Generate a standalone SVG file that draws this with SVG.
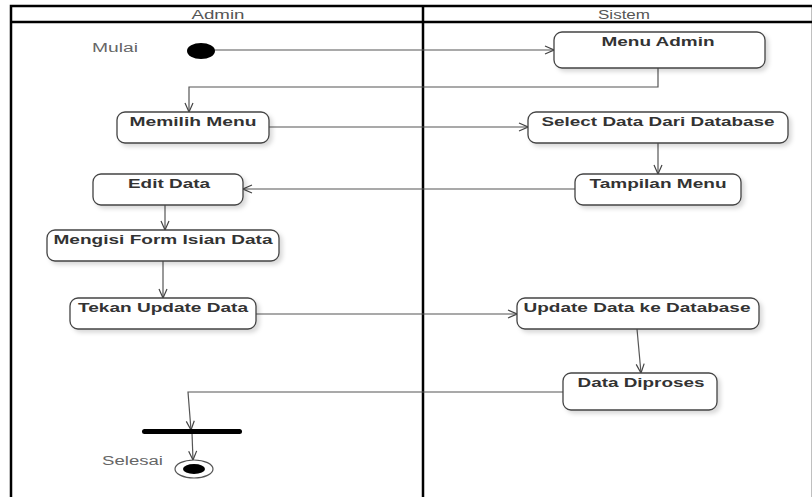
<svg xmlns="http://www.w3.org/2000/svg" width="812" height="497" viewBox="0 0 812 497">
<style>
.frame{fill:none;stroke:#000;stroke-width:2.5}
.box{fill:#fff;stroke:#444;stroke-width:1.3;filter:url(#sh)}
.lbl{font-family:"Liberation Sans",Arial,sans-serif;font-weight:bold;font-size:13px;fill:#333;text-anchor:middle}
.hdr{font-family:"Liberation Sans",Arial,sans-serif;font-size:12.5px;fill:#555;text-anchor:middle}
.side{font-family:"Liberation Sans",Arial,sans-serif;font-size:12.5px;fill:#666}
.con{fill:none;stroke:#555;stroke-width:1.2;marker-end:url(#arr)}
.conp{fill:none;stroke:#555;stroke-width:1.2}
</style>
<defs>
<filter id="sh" x="-10%" y="-20%" width="130%" height="160%">
<feDropShadow dx="3" dy="3" stdDeviation="2" flood-color="#000" flood-opacity="0.15"/>
</filter>
<marker id="arr" viewBox="0 0 10 10" refX="10" refY="5" markerWidth="10" markerHeight="10" markerUnits="userSpaceOnUse" orient="auto">
<path d="M1,1 L10,5 L1,9" fill="none" stroke="#444" stroke-width="1.2"/>
</marker>
</defs>
<rect width="812" height="497" fill="#fff"/>
<g id="lanes">
<rect class="frame" x="11" y="6" width="802" height="495"/>
<line class="frame" x1="11" y1="22" x2="812" y2="22"/>
<line class="frame" x1="423" y1="6" x2="423" y2="497"/>
<text class="hdr" x="218" y="19" textLength="53" lengthAdjust="spacingAndGlyphs">Admin</text>
<text class="hdr" x="624" y="19" textLength="52" lengthAdjust="spacingAndGlyphs">Sistem</text>
</g>
<g id="connectors">
<line class="con" x1="215" y1="50" x2="554" y2="50"/>
<polyline class="con" points="658,68 658,87 189,87 189,112"/>
<line class="con" x1="269" y1="127" x2="528" y2="127"/>
<line class="con" x1="658" y1="143" x2="658" y2="174"/>
<line class="con" x1="575" y1="189" x2="243" y2="189"/>
<line class="con" x1="165" y1="205" x2="165" y2="230"/>
<line class="con" x1="163" y1="261" x2="163" y2="298"/>
<line class="con" x1="256" y1="314" x2="517" y2="314"/>
<line class="con" x1="637" y1="329" x2="641" y2="373"/>
<polyline class="con" points="563,392 188,392 191,430"/>
<line class="con" x1="192" y1="433" x2="193" y2="460"/>
</g>
<g id="start">
<ellipse cx="201" cy="51" rx="14" ry="8" fill="#000"/>
<text class="side" x="92" y="52" textLength="46" lengthAdjust="spacingAndGlyphs">Mulai</text>
</g>
<g id="menu-admin">
<rect class="box" x="554" y="32" width="211" height="36" rx="8"/>
<text class="lbl" x="658" y="46" textLength="113" lengthAdjust="spacingAndGlyphs">Menu Admin</text>
</g>
<g id="memilih-menu">
<rect class="box" x="117" y="112" width="152" height="31" rx="8"/>
<text class="lbl" x="193" y="126" textLength="127" lengthAdjust="spacingAndGlyphs">Memilih Menu</text>
</g>
<g id="select-data">
<rect class="box" x="528" y="112" width="260" height="31" rx="8"/>
<text class="lbl" x="658" y="126" textLength="233" lengthAdjust="spacingAndGlyphs">Select Data Dari Database</text>
</g>
<g id="edit-data">
<rect class="box" x="93" y="174" width="150" height="31" rx="8"/>
<text class="lbl" x="169" y="188" textLength="82" lengthAdjust="spacingAndGlyphs">Edit Data</text>
</g>
<g id="tampilan-menu">
<rect class="box" x="575" y="174" width="166" height="31" rx="8"/>
<text class="lbl" x="658" y="188" textLength="137" lengthAdjust="spacingAndGlyphs">Tampilan Menu</text>
</g>
<g id="mengisi-form">
<rect class="box" x="47" y="230" width="232" height="31" rx="8"/>
<text class="lbl" x="163" y="244" textLength="219" lengthAdjust="spacingAndGlyphs">Mengisi Form Isian Data</text>
</g>
<g id="tekan-update">
<rect class="box" x="70" y="298" width="186" height="31" rx="8"/>
<text class="lbl" x="163" y="312" textLength="170" lengthAdjust="spacingAndGlyphs">Tekan Update Data</text>
</g>
<g id="update-db">
<rect class="box" x="517" y="298" width="242" height="31" rx="8"/>
<text class="lbl" x="637" y="312" textLength="227" lengthAdjust="spacingAndGlyphs">Update Data ke Database</text>
</g>
<g id="data-diproses">
<rect class="box" x="563" y="373" width="154" height="37" rx="8"/>
<text class="lbl" x="641" y="387" textLength="127" lengthAdjust="spacingAndGlyphs">Data Diproses</text>
</g>
<g id="join-bar">
<rect x="142" y="429" width="100" height="5" rx="2.5" fill="#000"/>
</g>
<g id="end">
<ellipse cx="194" cy="469" rx="19" ry="9" fill="#fff" stroke="#555" stroke-width="1.2"/>
<ellipse cx="194" cy="469" rx="11" ry="5" fill="#000"/>
<text class="side" x="102" y="465" textLength="61" lengthAdjust="spacingAndGlyphs">Selesai</text>
</g>
</svg>
